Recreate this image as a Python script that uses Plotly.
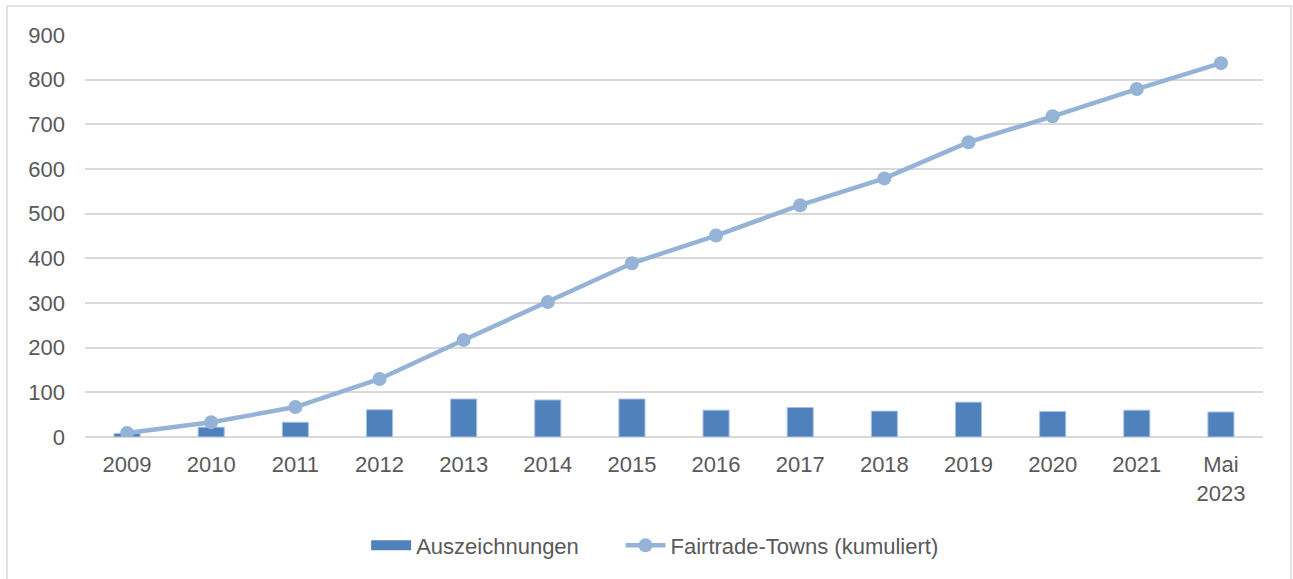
import plotly.graph_objects as go

categories = ["2009", "2010", "2011", "2012", "2013", "2014", "2015", "2016",
              "2017", "2018", "2019", "2020", "2021", "Mai 2023"]
tick_labels = ["2009", "2010", "2011", "2012", "2013", "2014", "2015", "2016",
               "2017", "2018", "2019", "2020", "2021", "Mai<br>2023"]
auszeichnungen = [8, 22, 33, 61, 85, 83, 85, 60, 66, 58, 78, 57, 60, 56]
kumuliert = [9, 33, 67, 130, 217, 302, 389, 451, 519, 579, 660, 718, 779, 837]

font_color = "#595959"
bar_color = "#4F81BD"
line_color = "#95B3D7"
fs = 22

fig = go.Figure()
fig.add_trace(go.Bar(
    x=categories, y=auszeichnungen, name="Auszeichnungen",
    marker=dict(color=bar_color, line=dict(color="#A9C2E3", width=1)),
    width=0.31, showlegend=False, legendgroup="a",
))
# legend-only entry to give the bar series a wide rectangular swatch
fig.add_trace(go.Scatter(
    x=[None], y=[None], name="Auszeichnungen" + "\u00a0" * 6, mode="lines",
    line=dict(color=bar_color, width=15), legendgroup="a",
))
fig.add_trace(go.Scatter(
    x=categories, y=kumuliert, name="Fairtrade-Towns (kumuliert)",
    mode="lines+markers",
    line=dict(color=line_color, width=4.5),
    marker=dict(color=line_color, size=14),
))

fig.update_layout(
    width=1293, height=579,
    paper_bgcolor="white", plot_bgcolor="white",
    margin=dict(l=85, r=30, t=35, b=142),
    font=dict(family="Liberation Sans, Arial, sans-serif", size=fs, color=font_color),
    showlegend=True,
    legend=dict(orientation="h", x=0.484, xanchor="center", y=-0.27, yanchor="middle",
                font=dict(size=fs, color=font_color), itemwidth=40,
                traceorder="normal", tracegroupgap=0),
    xaxis=dict(
        type="category", tickmode="array", tickvals=categories, ticktext=tick_labels,
        range=[-0.5, 13.5],
        showgrid=False, showline=False, ticks="", automargin=False,
        tickfont=dict(size=fs, color=font_color), ticklabelstandoff=12,
    ),
    yaxis=dict(
        range=[0, 900], dtick=100, showgrid=True, gridcolor="#D9D9D9", gridwidth=1.5,
        zeroline=True, zerolinecolor="#D9D9D9", zerolinewidth=2,
        showline=False, ticks="", automargin=False,
        tickfont=dict(size=fs, color=font_color), ticklabelstandoff=19,
    ),
    shapes=[dict(type="rect", xref="paper", yref="paper",
                 x0=(7 - 85) / 1178, x1=(1291 - 85) / 1178,
                 y0=-0.5, y1=1 + 29 / 402,
                 line=dict(color="#D9D9D9", width=1.5), fillcolor="rgba(0,0,0,0)",
                 layer="below")],
)

fig.write_html("out.html", config={"displayModeBar": False},
               post_script="document.body.style.margin='0px';")
